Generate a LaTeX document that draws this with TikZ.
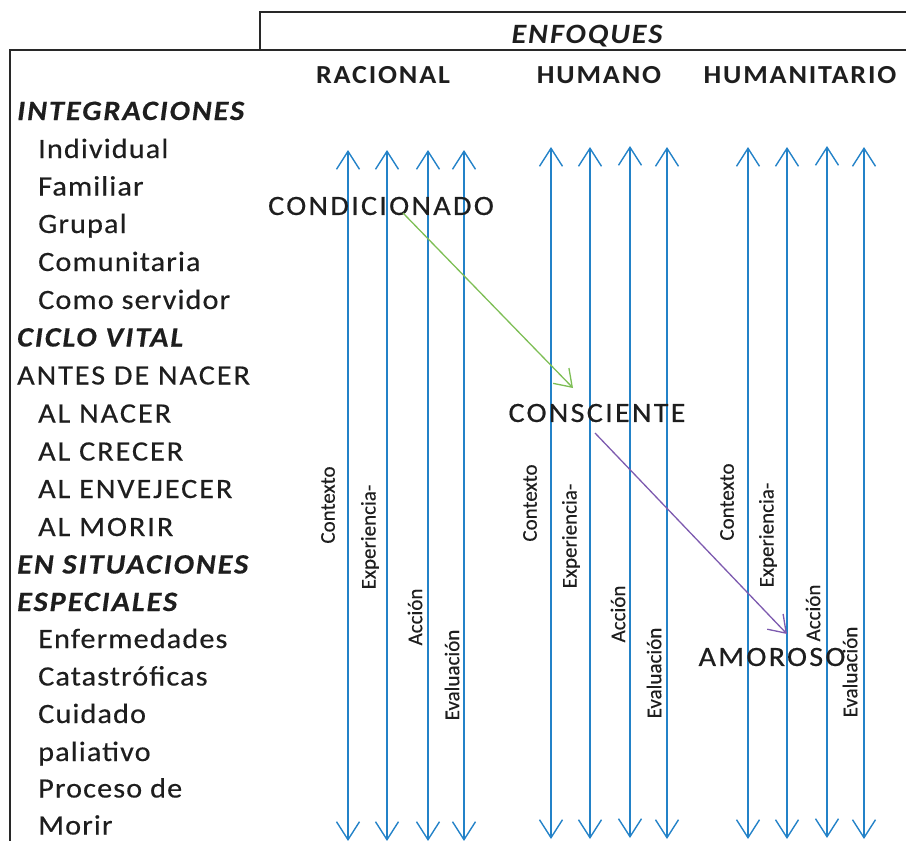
\documentclass[tikz,border=0pt]{standalone}
\usepackage{fontspec}
\setmainfont{Carlito}
\newfontfamily\listfont[LetterSpace=4,FakeStretch=1.08,FakeBold=0.4]{Carlito}
\newfontfamily\caplistfont[LetterSpace=7,FakeStretch=1.08,FakeBold=0.4]{Carlito}
\newfontfamily\headfont[LetterSpace=7,FakeStretch=1.08]{Carlito}
\newfontfamily\stagefont[LetterSpace=8,FakeStretch=1.08,FakeBold=0.4]{Carlito}
\newfontfamily\vfont[FakeBold=0.3]{Carlito}
\usetikzlibrary{arrows.meta}
\definecolor{vblue}{RGB}{35,130,200}
\definecolor{vgreen}{RGB}{125,190,85}
\definecolor{vpurple}{RGB}{125,90,175}
\definecolor{framec}{RGB}{40,40,40}
\definecolor{ink}{RGB}{30,30,30}
\begin{document}
\begin{tikzpicture}[x=1pt,y=-1pt,
  listitem/.style={anchor=base west, inner sep=0pt, text=ink, font=\listfont\fontsize{28}{30}\selectfont},
  capitem/.style={listitem, font=\caplistfont\fontsize{28}{30}\selectfont},
  listhead/.style={listitem, font=\caplistfont\fontsize{28}{30}\selectfont\bfseries\itshape},
  colhead/.style={anchor=base, inner sep=0pt, text=ink, font=\headfont\fontsize{26}{28}\selectfont\bfseries},
  stage/.style={inner sep=0pt, text=ink, font=\stagefont\fontsize{28}{30}\selectfont},
  vlabel/.style={rotate=90, inner sep=0pt, text=ink, font=\vfont\fontsize{21}{24}\selectfont},
  frameline/.style={draw=framec, line width=2pt},
  varrow/.style={draw=vblue, line width=1.4pt, arrows={Straight Barb[length=18pt,width=23pt,line width=1.4pt]-Straight Barb[length=18pt,width=23pt,line width=1.4pt]}},
  dgreen/.style={draw=vgreen, line width=1.3pt, -{Straight Barb[length=16pt,width=22pt,line width=1.3pt]}},
  dpurple/.style={draw=vpurple, line width=1.3pt, -{Straight Barb[length=16pt,width=22pt,line width=1.3pt]}}
]
\useasboundingbox (0,0) rectangle (906,841);
% frame
\coordinate (fa) at (260,50);
\coordinate (fb) at (260,12);
\coordinate (fc) at (906,12);
\coordinate (fd) at (10,841);
\coordinate (fe) at (10,50);
\coordinate (ff) at (906,50);
\draw[frameline] (fa) -- (fb) -- (fc);
\draw[frameline] (fd) -- (fe) -- (ff);
% headers
\node[colhead, font=\headfont\fontsize{28}{30}\selectfont\bfseries\itshape] (enf) at (587,43) {ENFOQUES};
\node[colhead] (rac) at (383,83) {RACIONAL};
\node[colhead] (hum) at (599,83) {HUMANO};
\node[colhead] (huma) at (800,83) {HUMANITARIO};
% left list
\node[listhead] (l0) at (17,120) {INTEGRACIONES};
\node[listitem] (l1) at (38,158) {Individual};
\node[listitem] (l2) at (38,195.5) {Familiar};
\node[listitem] (l3) at (38,233) {Grupal};
\node[listitem] (l4) at (38,271) {Comunitaria};
\node[listitem] (l5) at (38,309) {Como servidor};
\node[listhead] (l6) at (17,346.5) {CICLO VITAL};
\node[capitem] (l7) at (17,384.5) {ANTES DE NACER};
\node[capitem] (l8) at (38,422.5) {AL NACER};
\node[capitem] (l9) at (38,460.5) {AL CRECER};
\node[capitem] (l10) at (38,498) {AL ENVEJECER};
\node[capitem] (l11) at (38,536) {AL MORIR};
\node[listhead] (l12) at (17,573.5) {EN SITUACIONES};
\node[listhead] (l13) at (17,611) {ESPECIALES};
\node[listitem] (l14) at (38,648) {Enfermedades};
\node[listitem] (l15) at (38,685.5) {Catastróficas};
\node[listitem] (l16) at (38,723) {Cuidado};
\node[listitem] (l17) at (38,761) {paliativo};
\node[listitem] (l18) at (38,797.5) {Proceso de};
\node[listitem] (l19) at (38,834.5) {Morir};
% vertical arrows
\foreach \n/\x/\yt/\yb in {a1/348/150/841, a2/387/150/841, a3/428/150/841, a4/464/150/841,
                           b1/551/147/839, b2/590/147/839, b3/630/146/838, b4/667/147/839,
                           c1/748/147/839, c2/787/147/839, c3/827/146/838, c4/864/147/839}{
  \coordinate (\n t) at (\x,\yt);
  \coordinate (\n b) at (\x,\yb);
  \draw[varrow] (\n b) -- (\n t);
}
% rotated labels
\node[vlabel] (ctx1) at (328,505) {Contexto};
\node[vlabel] (exp1) at (370,537) {Experiencia-};
\node[vlabel] (acc1) at (415,617) {Acción};
\node[vlabel] (eva1) at (452,675) {Evaluación};
\node[vlabel] (ctx2) at (530,503) {Contexto};
\node[vlabel] (exp2) at (571,536) {Experiencia-};
\node[vlabel] (acc2) at (618,614) {Acción};
\node[vlabel] (eva2) at (654,673) {Evaluación};
\node[vlabel] (ctx3) at (727,502) {Contexto};
\node[vlabel] (exp3) at (768,535) {Experiencia-};
\node[vlabel] (acc3) at (813,613) {Acción};
\node[vlabel] (eva3) at (850,672) {Evaluación};
% stages
\node[stage] (cond) at (381,206) {CONDICIONADO};
\node[stage] (cons) at (597,413) {CONSCIENTE};
\node[stage] (amor) at (772,657) {AMOROSO};
\coordinate (g1) at (403,213);
\coordinate (g2) at (573,388);
\coordinate (p1) at (595,433);
\coordinate (p2) at (787,634);
\draw[dgreen] (g1) -- (g2);
\draw[dpurple] (p1) -- (p2);
\end{tikzpicture}
\end{document}
